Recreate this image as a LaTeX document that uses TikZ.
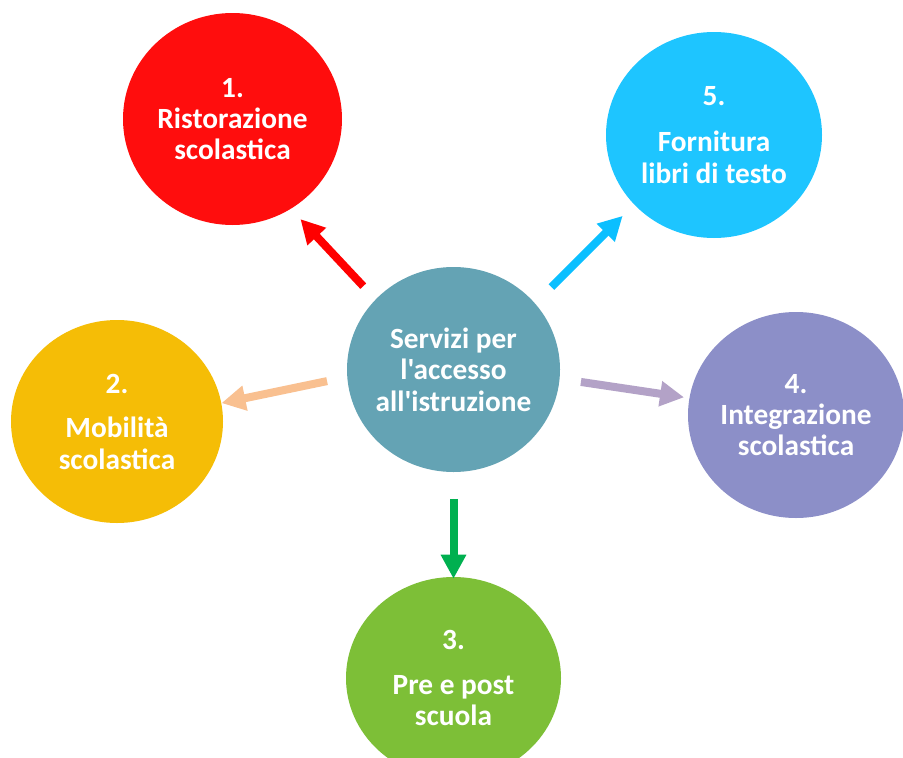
\documentclass[tikz,border=0pt]{standalone}
\usepackage{fontspec}
\setmainfont{Carlito}[Ligatures=TeXOff]
\usetikzlibrary{arrows.meta,shapes.geometric}
\definecolor{cteal}{HTML}{64A3B4}
\definecolor{cred}{HTML}{FF0D0D}
\definecolor{credar}{HTML}{FF0000}
\definecolor{ccyan}{HTML}{1EC5FF}
\definecolor{ccyanar}{HTML}{0BBFFF}
\definecolor{corange}{HTML}{F5BD06}
\definecolor{corangear}{HTML}{F9C090}
\definecolor{cpurple}{HTML}{8C8FC8}
\definecolor{cpurplear}{HTML}{B3A2C7}
\definecolor{cgreen}{HTML}{7DBF37}
\definecolor{cgreenar}{HTML}{00B050}
\begin{document}
\begin{tikzpicture}[x=0.75pt,y=-0.75pt,
  bubble/.style={ellipse, inner sep=-12pt, text=white,
    font=\fontsize{22}{23.5}\selectfont\bfseries, align=center},
  link/.style={line width=6pt, -{Triangle[width=18pt,length=18pt]}}]
\clip (0,0) rectangle (903,757);
\fill[white] (0,0) rectangle (903,757);

\node[bubble, fill=cteal, minimum width=159.75pt, minimum height=153.75pt] (c0) at (453.5,369.5)
  {Servizi per\\l'accesso\\all'istruzione};
\node[bubble, fill=cred, minimum width=164.25pt, minimum height=159pt] (c1) at (232.5,119)
  {1.\\Ristorazione\\scolastica};
\node[bubble, fill=ccyan, minimum width=162pt, minimum height=154.5pt] (c5) at (714,135)
  {5.\\[11pt]Fornitura\\libri di testo};
\node[bubble, fill=corange, minimum width=159pt, minimum height=152.25pt] (c2) at (117,421.5)
  {2.\\[10pt]Mobilità\\scolastica};
\node[bubble, fill=cpurple, minimum width=162pt, minimum height=154.5pt] (c4) at (796,415)
  {4.\\Integrazione\\scolastica};
\node[bubble, fill=cgreen, minimum width=161.25pt, minimum height=151.5pt] (c3) at (453.5,678)
  {3.\\[10pt]Pre e post\\scuola};

\draw[link, draw=credar, fill=credar, shorten <=13.5pt, shorten >=10.4pt] (c0.138.3) -- (c1.303.4);
\draw[link, draw=ccyanar, fill=ccyanar, shorten <=17.2pt, shorten >=12pt] (c0.39.6) -- (c5.221.7);
\draw[link, draw=corangear, fill=corangear, shorten <=15.3pt] (c0.184.7) -- (c2.10.6);
\draw[link, draw=cpurplear, fill=cpurplear, shorten <=16pt, shorten >=3.9pt] (c0.355.3) -- (c4.171.9);
\draw[link, draw=cgreenar, fill=cgreenar, shorten <=20pt, shorten >=-1.5pt] (c0.south) -- (c3.north);
\end{tikzpicture}
\end{document}
